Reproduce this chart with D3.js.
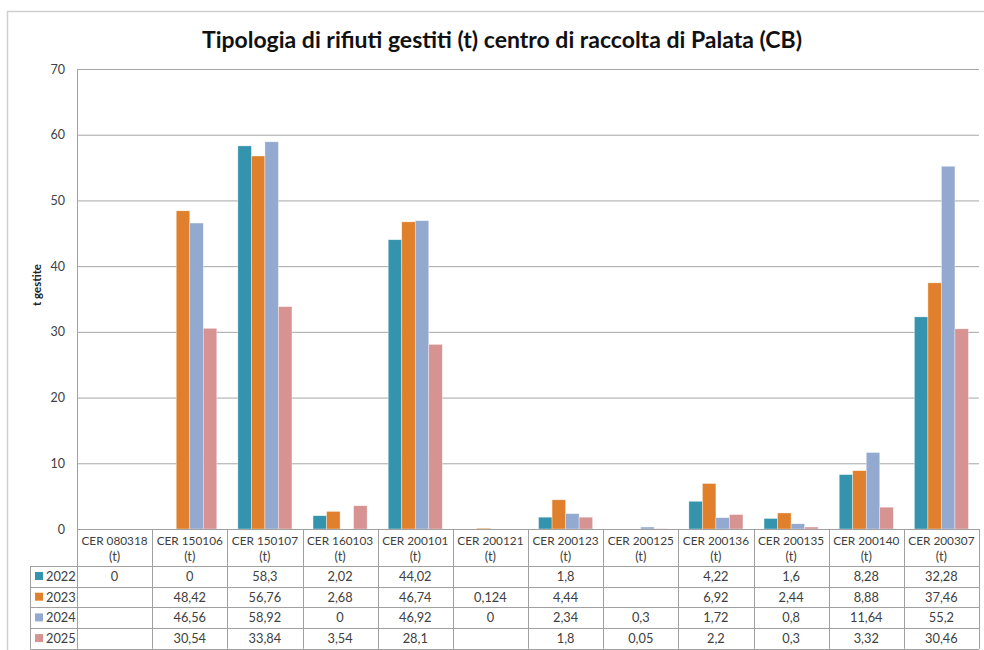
<!DOCTYPE html>
<html>
<head>
<meta charset="utf-8">
<script src="https://cdn.jsdelivr.net/npm/d3@7"></script>
<style>
  body { margin: 0; background: #fff; }
  svg { display: block; font-family: Lato, "Open Sans", sans-serif; }
</style>
</head>
<body>
<div id="chart"></div>
<script>
// chart values
const categories = ['CER 080318', 'CER 150106', 'CER 150107', 'CER 160103', 'CER 200101', 'CER 200121',
  'CER 200123', 'CER 200125', 'CER 200136', 'CER 200135', 'CER 200140', 'CER 200307'];
const years = ['2022', '2023', '2024', '2025'];
const values2022 = [0, 0, 58.3, 2.02, 44.02, null, 1.8, null, 4.22, 1.6, 8.28, 32.28];
const values2023 = [null, 48.42, 56.76, 2.68, 46.74, 0.124, 4.44, null, 6.92, 2.44, 8.88, 37.46];
const values2024 = [null, 46.56, 58.92, 0, 46.92, 0, 2.34, 0.3, 1.72, 0.8, 11.64, 55.2];
const values2025 = [null, 30.54, 33.84, 3.54, 28.1, null, 1.8, 0.05, 2.2, 0.3, 3.32, 30.46];
const yTicks = [0, 10, 20, 30, 40, 50, 60, 70];

const seriesValues = [values2022, values2023, values2024, values2025];
const colors = ['#3494ad', '#e0802c', '#93a9cf', '#d79292'];

const width = 984, height = 650;
const plot = { left: 77, right: 979, top: 69, bottom: 529 };
const headerH = 37, rowH = 20.7, keyLeft = 30;
const tableFont = 12.8, headerFont = 11.8;

const fmt = v => v === null ? '' : String(v).replace('.', ',');

const svg = d3.select('#chart').append('svg')
  .attr('width', width)
  .attr('height', height);

// outer chart border
svg.append('path')
  .attr('d', 'M7.5,660 V11.5 H990')
  .attr('fill', 'none')
  .attr('stroke', '#cfcfcf')
  .attr('stroke-width', 1.5);

svg.append('text')
  .attr('x', 502)
  .attr('y', 48)
  .attr('text-anchor', 'middle')
  .attr('font-size', 23)
  .attr('font-weight', 'bold')
  .attr('fill', '#111')
  .text('Tipologia di rifiuti gestiti (t) centro di raccolta di Palata (CB)');

const x0 = d3.scaleBand()
  .domain(categories)
  .range([plot.left, plot.right])
  .padding(0);

const x1 = d3.scaleBand()
  .domain(years)
  .range([0, x0.bandwidth()])
  .paddingInner(0)
  .paddingOuter(0.78);

const y = d3.scaleLinear()
  .domain([0, 70])
  .range([plot.bottom, plot.top]);

// gridlines and y ticks
const yAxis = svg.append('g')
  .attr('transform', `translate(${plot.left},0)`)
  .call(d3.axisLeft(y).tickValues(yTicks).tickSize(-(plot.right - plot.left)).tickPadding(12));
yAxis.select('.domain').remove();
yAxis.selectAll('.tick line').attr('stroke', '#a6a6a6');
yAxis.selectAll('.tick text')
  .attr('fill', '#404040')
  .attr('font-size', 12.5)
  .attr('font-family', 'Lato, sans-serif');

svg.append('text')
  .attr('transform', 'translate(41,285) rotate(-90)')
  .attr('text-anchor', 'middle')
  .attr('font-size', 11.5)
  .attr('font-weight', 'bold')
  .attr('fill', '#222')
  .text('t gestite');

// bars
const barData = [];
categories.forEach((c, i) => {
  years.forEach((yr, j) => {
    const v = seriesValues[j][i];
    if (v !== null && v > 0) barData.push({ cat: c, year: yr, value: v, color: colors[j] });
  });
});

svg.append('g').selectAll('rect')
  .data(barData)
  .enter().append('rect')
  .attr('x', d => x0(d.cat) + x1(d.year))
  .attr('y', d => y(d.value))
  .attr('width', x1.bandwidth())
  .attr('height', d => y(0) - y(d.value))
  .attr('fill', d => d.color)
  .attr('stroke', '#ffffff')
  .attr('stroke-opacity', 0.6)
  .attr('stroke-width', 0.6);

// data table
const table = svg.append('g');
const lineColor = '#a0a0a0';
const tableBottom = plot.bottom + headerH + rowH * years.length;

// horizontal lines
table.append('line')
  .attr('x1', plot.left).attr('x2', plot.right)
  .attr('y1', plot.bottom + 0.5).attr('y2', plot.bottom + 0.5)
  .attr('stroke', lineColor);
d3.range(years.length + 1).forEach(k => {
  const yy = Math.round(plot.bottom + headerH + rowH * k) + 0.5;
  table.append('line')
    .attr('x1', keyLeft).attr('x2', plot.right)
    .attr('y1', yy).attr('y2', yy)
    .attr('stroke', lineColor);
});

// vertical lines
table.append('line')
  .attr('x1', plot.left + 0.5).attr('x2', plot.left + 0.5)
  .attr('y1', plot.top).attr('y2', tableBottom)
  .attr('stroke', lineColor);
categories.forEach(c => {
  const xx = Math.round(x0(c) + x0.bandwidth()) + 0.5;
  table.append('line')
    .attr('x1', xx).attr('x2', xx)
    .attr('y1', plot.bottom).attr('y2', tableBottom)
    .attr('stroke', lineColor);
});
table.append('line')
  .attr('x1', keyLeft + 0.5).attr('x2', keyLeft + 0.5)
  .attr('y1', plot.bottom + headerH).attr('y2', tableBottom)
  .attr('stroke', lineColor);

// category header cells
const header = table.selectAll('.hdr')
  .data(categories)
  .enter().append('text')
  .attr('class', 'hdr')
  .attr('text-anchor', 'middle')
  .attr('font-size', headerFont)
  .attr('fill', '#404040');
header.append('tspan')
  .attr('x', d => x0(d) + x0.bandwidth() / 2)
  .attr('y', plot.bottom + 16)
  .text(d => d);
header.append('tspan')
  .attr('x', d => x0(d) + x0.bandwidth() / 2)
  .attr('y', plot.bottom + 32)
  .attr('font-size', tableFont)
  .text('(t)');

// legend keys and values
years.forEach((yr, j) => {
  const rowTop = plot.bottom + headerH + rowH * j;
  table.append('rect')
    .attr('x', 35).attr('y', rowTop + 6)
    .attr('width', 8).attr('height', 8)
    .attr('fill', colors[j]);
  table.append('text')
    .attr('x', 46).attr('y', rowTop + 15)
    .attr('font-size', tableFont)
    .attr('fill', '#404040')
    .text(yr);
  table.selectAll(`.v${yr}`)
    .data(categories)
    .enter().append('text')
    .attr('x', d => x0(d) + x0.bandwidth() / 2)
    .attr('y', rowTop + 15)
    .attr('text-anchor', 'middle')
    .attr('font-size', tableFont)
    .attr('fill', '#404040')
    .text((d, i) => fmt(seriesValues[j][i]));
});
</script>
</body>
</html>
